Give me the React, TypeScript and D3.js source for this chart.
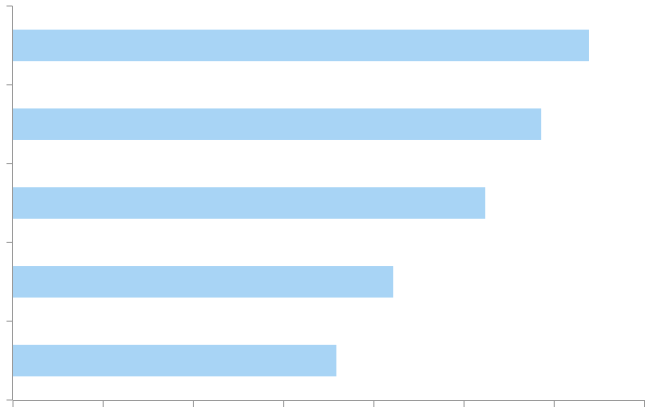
import React, { useEffect, useRef } from 'react';
import * as d3 from 'd3';

// bars from top to bottom
const categories = ['A', 'B', 'C', 'D', 'E'];
const values = [63.9, 58.6, 52.4, 42.2, 35.9];
const xTicks = [0, 10, 20, 30, 40, 50, 60, 70];

export default function App() {
  const svgRef = useRef<SVGSVGElement>(null);

  useEffect(() => {
    if (!svgRef.current) return;
    const width = 651;
    const height = 414;
    const margin = { top: 6, right: 7, bottom: 14, left: 12.5 };

    const svg = d3.select(svgRef.current);
    svg.selectAll('*').remove();

    const data = categories.map((c, i) => ({ name: c, value: values[i] }));

    const x = d3.scaleLinear()
      .domain([0, 70])
      .range([margin.left, width - margin.right]);

    const y = d3.scaleBand()
      .domain(categories)
      .range([margin.top, height - margin.bottom])
      .paddingInner(0.6)
      .paddingOuter(0.3);

    const band = d3.scaleBand()
      .domain(categories)
      .range([margin.top, height - margin.bottom]);

    svg.selectAll('rect.bar')
      .data(data)
      .enter()
      .append('rect')
      .attr('class', 'bar')
      .attr('x', x(0))
      .attr('y', d => y(d.name)!)
      .attr('width', d => x(d.value) - x(0))
      .attr('height', y.bandwidth())
      .attr('fill', '#a8d4f5');

    const axisColor = '#9a9a9a';

    // x axis
    const xAxis = svg.append('g')
      .attr('transform', `translate(0,${height - margin.bottom})`)
      .call(d3.axisBottom(x).tickValues(xTicks).tickSize(7).tickSizeOuter(0).tickFormat(() => ''));
    xAxis.select('.domain').attr('stroke', axisColor);
    xAxis.selectAll('.tick line').attr('stroke', axisColor);

    // y axis: ticks at band boundaries
    const boundaries = categories.map(c => band(c)!).concat([height - margin.bottom]);
    const yAxis = svg.append('g')
      .attr('transform', `translate(${margin.left},0)`);
    yAxis.append('line')
      .attr('x1', 0).attr('x2', 0)
      .attr('y1', margin.top).attr('y2', height - margin.bottom)
      .attr('stroke', axisColor);
    yAxis.selectAll('line.ytick')
      .data(boundaries)
      .enter()
      .append('line')
      .attr('class', 'ytick')
      .attr('x1', -6).attr('x2', 0)
      .attr('y1', d => d).attr('y2', d => d)
      .attr('stroke', axisColor);
  }, []);

  return (
    <svg
      ref={svgRef}
      width={651}
      height={414}
      style={{ position: 'absolute', left: 0, top: 0, display: 'block', background: '#fff' }}
    />
  );
}
